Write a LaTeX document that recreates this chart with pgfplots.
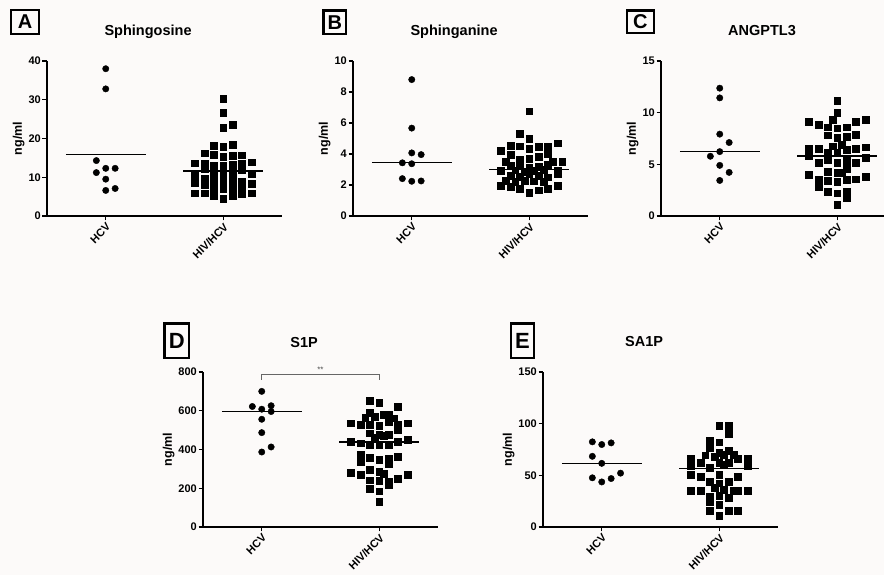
\documentclass[border=0pt]{standalone}
\usepackage{fontspec}
\setmainfont{Liberation Sans}
\usepackage{pgfplots}
\pgfplotsset{compat=1.18}
\definecolor{bg}{RGB}{252,250,249}
\pgfplotsset{
  panel/.style={
    scale only axis, width=235pt, height=155pt, anchor=south west,
    axis x line*=bottom, axis y line*=left,
    axis line style={line width=1.4pt, -},
    xmin=0.5, xmax=2.5, ymin=0,
    xtick={1,2}, xticklabels={HCV,HIV/HCV},
    tick align=outside, major tick length=4.5pt,
    tick style={line width=1.1pt, black},
    xticklabel style={rotate=45, anchor=north east, inner sep=1pt, font=\bfseries\fontsize{11}{13}\selectfont},
    yticklabel style={inner sep=1.5pt, font=\bfseries\fontsize{11}{13}\selectfont},
    /pgf/number format/assume math mode=true,
    ylabel={ng/ml}, ylabel style={font=\bfseries\fontsize{12.5}{14}\selectfont, yshift=-1pt},
    title style={at={(0.43,1)}, anchor=base, yshift=19pt, font=\bfseries\fontsize{14.5}{17}\selectfont},
    clip=false,
  },
  hcvm/.style={only marks, mark=*, mark size=3.2pt, black},
  hivm/.style={only marks, mark=square*, mark size=3.4pt, black},
  meanl/.style={black, line width=1.3pt},
}
\tikzset{plab/.style={draw, line width=2.4pt, inner sep=0pt, font=\bfseries\fontsize{20}{22}\selectfont}}
\begin{document}
\begin{tikzpicture}
\path[use as bounding box, fill=bg] (0,0) rectangle (884pt,575pt);
% ---------- A ----------
\begin{axis}[panel, at={(47pt,359pt)}, ymax=40, ytick={0,10,20,30,40}, title={Sphingosine}]
\addplot[hcvm] coordinates {(1,38.0) (1,32.8) (0.92,14.3) (0.92,11.2) (1,12.3) (1.08,12.3) (1,9.5) (1,6.6) (1.08,7.1)};
\addplot[hivm] coordinates {
(2,30.3) (2,26.6) (2,22.7) (2.08,23.5) (1.92,18.1) (2,17.9) (2.08,18.4)
(1.84,16.2) (1.92,15.8) (2,15.3) (2.08,15.6) (2.16,15.7)
(1.76,13.6) (1.84,13.6) (1.92,13.1) (2,12.9) (2.08,13.3) (2.16,13.6) (2.24,13.9)
(1.84,12.1) (1.92,12.3) (2,11.9) (2.08,12.2) (2.16,11.8)
(1.76,10.6) (1.92,10.8) (2,10.4) (2.08,11.0) (2.24,10.9)
(1.76,8.5) (1.84,9.6) (1.92,9.2) (2,9.8) (2.08,9.4) (2.16,9.0) (2.24,8.4)
(1.84,8.0) (1.92,7.6) (2,8.2) (2.08,7.3) (2.16,7.7)
(1.92,6.5) (2,6.9) (2.08,6.6)
(1.76,5.9) (1.84,5.9) (1.92,5.1) (2,4.4) (2.08,5.1) (2.16,5.7) (2.24,5.9)};
\addplot[meanl] coordinates {(0.66,15.9) (1.34,15.9)};
\addplot[meanl] coordinates {(1.66,11.6) (2.34,11.6)};
\end{axis}
% ---------- B ----------
\begin{axis}[panel, at={(353pt,359pt)}, ymax=10, ytick={0,2,4,6,8,10}, title={Sphinganine}]
\addplot[hcvm] coordinates {(1,8.80) (1,5.67) (1,4.07) (1.08,3.96) (0.92,3.43) (1,3.37) (0.92,2.41) (1,2.24) (1.08,2.26)};
\addplot[hivm] coordinates {
(2,6.76) (1.92,5.33) (2,5.0)
(1.84,4.54) (1.92,4.5) (2,4.35) (2.08,4.46) (2.16,4.5) (2.24,4.7)
(1.76,4.2) (1.84,3.98) (2.16,4.02)
(1.80,3.48) (1.92,3.63) (2,3.7) (2.08,3.8) (2.20,3.48) (2.28,3.52)
(1.84,3.25) (1.92,3.3) (2,3.15) (2.08,3.2) (2.16,3.3)
(1.76,2.9) (1.88,2.95) (1.96,2.85) (2.04,2.9) (2.12,3.0) (2.24,2.95)
(1.84,2.6) (1.92,2.55) (2,2.7) (2.08,2.6) (2.16,2.5) (2.24,2.7)
(1.80,2.3) (1.88,2.2) (1.96,2.3) (2.04,2.25) (2.12,2.2)
(1.76,1.98) (1.84,1.87) (1.92,1.74) (2,1.52) (2.08,1.67) (2.16,1.74) (2.24,1.96)};
\addplot[meanl] coordinates {(0.66,3.43) (1.34,3.43)};
\addplot[meanl] coordinates {(1.66,3.0) (2.34,3.0)};
\end{axis}
% ---------- C ----------
\begin{axis}[panel, at={(661pt,359pt)}, ymax=15, ytick={0,5,10,15}, title={ANGPTL3}]
\addplot[hcvm] coordinates {(1,12.37) (1,11.43) (1,7.92) (1.08,7.11) (0.92,5.78) (1,6.23) (1,4.9) (1.08,4.22) (1,3.44)};
\addplot[hivm] coordinates {
(2,11.14) (2,10.0) (1.96,9.35)
(1.76,9.09) (1.84,8.83) (1.92,8.6) (2,8.5) (2.08,8.6) (2.16,9.09) (2.24,9.35)
(1.92,7.82) (2,7.56) (2.08,7.7) (2.16,7.89)
(1.96,6.75) (2.04,6.9) (1.76,6.53) (1.84,6.53) (2.08,6.4) (2.16,6.53) (2.24,6.66)
(1.92,6.1) (2,6.1) (1.76,5.78) (2.24,5.62)
(1.84,5.13) (1.92,5.45) (2,5.19) (2.08,5.36) (2.16,5.13)
(2.08,4.55) (2,4.22) (2.04,4.16) (1.92,4.25)
(1.76,4.03) (1.84,3.51) (1.92,3.44) (2,3.31) (2.08,3.51) (2.16,3.57) (2.24,3.77)
(1.84,2.86) (1.92,2.37) (2,2.21) (2.08,2.37) (2.08,1.72) (2,1.1)};
\addplot[meanl, line width=1pt] coordinates {(0.66,6.23) (1.34,6.23)};
\addplot[meanl] coordinates {(1.66,5.81) (2.34,5.81)};
\end{axis}
% ---------- D ----------
\begin{axis}[panel, at={(203pt,48pt)}, ymax=800, ytick={0,200,400,600,800}, title={S1P}]
\addplot[hcvm] coordinates {(1,700) (0.92,622) (1.08,626) (1,608) (1.08,596) (1,556) (1,487) (1.08,413) (1,387)};
\addplot[hivm] coordinates {
(1.92,652) (2,643) (2.16,622)
(1.92,591) (1.88,565) (1.96,570) (2.04,579) (2.08,579) (2.12,562)
(1.76,536) (1.84,527) (1.92,527) (2,522) (2.08,544) (2.16,531) (2.24,536)
(2.16,501) (1.92,484) (2,475) (2.04,470) (1.96,461) (2.08,475)
(1.76,441) (1.84,432) (1.92,423) (2,423) (2.08,423) (2.16,441) (2.24,449)
(1.84,372) (1.92,359) (2,346) (2.08,354) (2.16,363)
(1.84,337) (2.08,328)
(1.76,282) (1.84,268) (1.92,294) (2,285) (2.04,277) (2.16,251) (2.24,268)
(1.92,242) (2,239) (2.08,233) (2.08,218)
(1.92,199) (2,185) (2,130)};
\addplot[meanl] coordinates {(0.66,596) (1.34,596)};
\addplot[meanl] coordinates {(1.66,439) (2.34,439)};
\draw[gray!80!black, line width=0.6pt] (axis cs:1,760) -- (axis cs:1,788) -- (axis cs:2,788) -- (axis cs:2,760);
\node[font=\fontsize{8}{9}\selectfont, gray!60!black] at (axis cs:1.5,812) {**};
\end{axis}
% ---------- E ----------
\begin{axis}[panel, at={(543pt,48pt)}, ymax=150, ytick={0,50,100,150}, title={SA1P}]
\addplot[hcvm] coordinates {(0.92,82.4) (1,79.8) (1.08,81.4) (0.92,68.4) (1,61.6) (1.16,52.1) (0.92,47.6) (1,43.6) (1.08,46.9)};
\addplot[hivm] coordinates {
(2,97.7) (2.08,98.4) (2.08,90.2) (1.92,83.7) (2,82.1)
(1.92,76.5) (2,71.7) (2.08,73.9)
(1.76,65.8) (1.84,61.9) (1.88,69.4) (1.96,68.4) (2.04,70) (2.12,70) (2.16,65.8) (2.24,65.8)
(1.76,59.3) (1.92,57) (2,61.9) (2.04,60.3) (2.08,61.9) (2.24,59.3)
(1.76,50.5) (1.84,48.9) (2,50.5) (2.16,48.9)
(1.92,44) (2,42.3) (2.08,44) (1.96,38.1) (2.04,35.8) (2.12,34.9)
(1.76,35.5) (1.84,35.5) (2.24,35.5) (2.16,34.9)
(1.92,29.3) (2,30.3) (2.08,28.3) (1.92,24.4) (2,21.2)
(1.92,15.6) (2.08,15.6) (2.16,15.6) (2,10.7)};
\addplot[meanl] coordinates {(0.66,61.6) (1.34,61.6)};
\addplot[meanl] coordinates {(1.66,56.4) (2.34,56.4)};
\end{axis}
% ---------- panel letters ----------
\node[plab, minimum width=28.5pt, minimum height=23.5pt] at (25pt,553pt) {A};
\node[plab, minimum width=22.5pt, minimum height=23.5pt] at (334.8pt,552.8pt) {B};
\node[plab, minimum width=27pt, minimum height=22.5pt] at (640.3pt,553.2pt) {C};
\node[plab, minimum width=24.5pt, minimum height=34.5pt, font=\bfseries\fontsize{22}{24}\selectfont] at (176.7pt,234.2pt) {D};
\node[plab, minimum width=22.5pt, minimum height=34.5pt, font=\bfseries\fontsize{22}{24}\selectfont] at (522.5pt,234.2pt) {E};
\end{tikzpicture}
\end{document}
